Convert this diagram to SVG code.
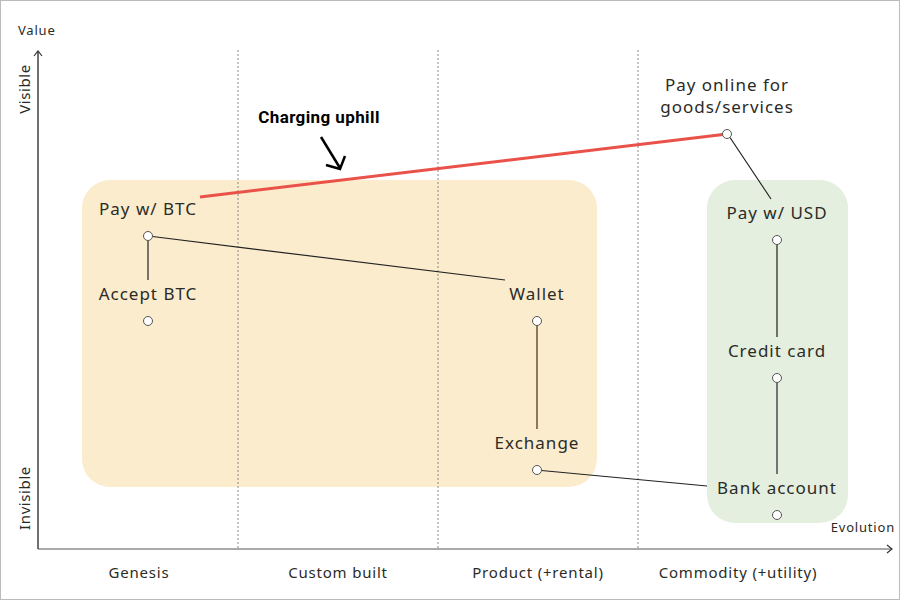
<svg xmlns="http://www.w3.org/2000/svg" width="900" height="600" viewBox="0 0 900 600">
<defs>
<style>
text{font-family:"Noto Sans","Open Sans",sans-serif;fill:#2b2b26}
.lbl{font-size:17px;text-anchor:middle;letter-spacing:1px}
.ax{font-size:13px;letter-spacing:0.8px}
.side{font-size:15px;letter-spacing:0.6px;text-anchor:middle}
.stage{font-size:15px;text-anchor:middle;letter-spacing:0.8px}
.grid{stroke:#888;stroke-width:1;stroke-dasharray:2 2}
.c{fill:#fff;stroke:#555;stroke-width:1}
.e{stroke:#222;stroke-width:1.2;fill:none}
</style>
<marker id="ah" markerWidth="10" markerHeight="10" refX="7" refY="5" orient="auto" markerUnits="userSpaceOnUse"><path d="M2,1 L7,5 L2,9" fill="none" stroke="#333" stroke-width="1.2"/></marker>
</defs>
<rect x="0.5" y="0.5" width="899" height="599" fill="#fff" stroke="#bbb"/>
<g id="regions">
<rect x="82" y="180" width="515" height="307" rx="28" fill="#fbecce"/>
<rect x="707" y="180" width="141" height="343" rx="28" fill="#e4efdf"/>
</g>
<g id="grid">
<line class="grid" x1="238" y1="50" x2="238" y2="549"/>
<line class="grid" x1="438" y1="50" x2="438" y2="549"/>
<line class="grid" x1="638" y1="50" x2="638" y2="549"/>
</g>
<g id="axes">
<line x1="38" y1="549" x2="38" y2="51" stroke="#111" stroke-width="1.2" marker-end="url(#ah)"/>
<line x1="38" y1="549" x2="892" y2="549" stroke="#555" stroke-width="1.2" marker-end="url(#ah)"/>
<text class="ax" x="18" y="35">Value</text>
<text class="ax" x="895" y="532" text-anchor="end">Evolution</text>
<text class="side" transform="translate(30,89) rotate(-90)">Visible</text>
<text class="side" transform="translate(30,498) rotate(-90)">Invisible</text>
<text class="stage" x="139" y="578">Genesis</text>
<text class="stage" x="338" y="578">Custom built</text>
<text class="stage" x="538" y="578">Product (+rental)</text>
<text class="stage" x="738" y="578">Commodity (+utility)</text>
</g>
<g id="connectors">
<line class="e" x1="148" y1="240" x2="148" y2="280"/>
<line class="e" x1="152.5" y1="236.5" x2="505" y2="280"/>
<line class="e" x1="537" y1="325.5" x2="537" y2="429" style="stroke:#8b7a58;stroke-width:2"/>
<line class="e" x1="541.5" y1="470.5" x2="707" y2="486"/>
<line class="e" x1="730" y1="137.5" x2="771" y2="199"/>
<line class="e" x1="777" y1="244.5" x2="777" y2="337" style="stroke:#6b7562;stroke-width:2"/>
<line class="e" x1="777" y1="382.5" x2="777" y2="474" style="stroke:#555;stroke-width:1.6"/>
<line x1="200" y1="197" x2="723" y2="134.5" stroke="#ea5149" stroke-width="3"/>
</g>
<g id="annotation">
<text x="319" y="123" text-anchor="middle" style="font-family:Roboto,'Liberation Sans',sans-serif;font-weight:bold;font-size:17px;letter-spacing:0.4px;fill:#000">Charging uphill</text>
<line x1="321" y1="137" x2="340" y2="168" stroke="#000" stroke-width="2.5"/>
<path d="M326,165 L340,169 L345,156" fill="none" stroke="#000" stroke-width="2.5"/>
</g>
<g id="node-pay-btc"><text class="lbl" x="148" y="215">Pay w/ BTC</text><circle class="c" cx="148" cy="236" r="4.5"/></g>
<g id="node-accept-btc"><text class="lbl" x="148" y="300">Accept BTC</text><circle class="c" cx="148" cy="321" r="4.5"/></g>
<g id="node-wallet"><text class="lbl" x="537" y="300">Wallet</text><circle class="c" cx="537" cy="321" r="4.5"/></g>
<g id="node-exchange"><text class="lbl" x="537" y="449">Exchange</text><circle class="c" cx="537" cy="470" r="4.5"/></g>
<g id="node-pay-online"><text class="lbl" x="727" y="91">Pay online for</text><text class="lbl" x="727" y="113">goods/services</text><circle class="c" cx="727" cy="134" r="4.5"/></g>
<g id="node-pay-usd"><text class="lbl" x="777" y="219">Pay w/ USD</text><circle class="c" cx="777" cy="240" r="4.5"/></g>
<g id="node-credit-card"><text class="lbl" x="777" y="357">Credit card</text><circle class="c" cx="777" cy="378" r="4.5"/></g>
<g id="node-bank-account"><text class="lbl" x="777" y="494">Bank account</text><circle class="c" cx="777" cy="515" r="4.5"/></g>
</svg>
